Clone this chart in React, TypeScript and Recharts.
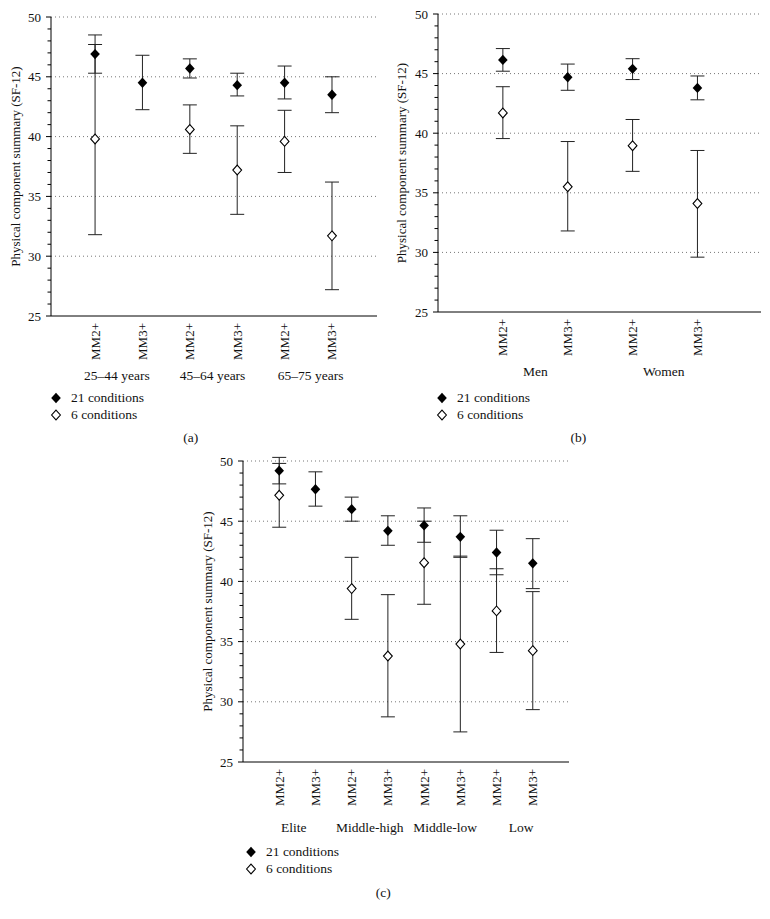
import React from "react";
import { ErrorBar, ReferenceLine, Scatter, ScatterChart, XAxis, YAxis } from "recharts";

const SERIF = "'Liberation Serif', 'Times New Roman', 'DejaVu Serif', serif";
const Y_LABEL = "Physical component summary (SF-12)";

// (a) age groups
const ageTicks = ["MM2+", "MM3+", "MM2+", "MM3+", "MM2+", "MM3+"];
const ageGroups = ["25–44 years", "45–64 years", "65–75 years"];
const ageGroupPos = [1.46, 3.48, 5.55];
const age21Mean = [46.9, 44.5, 45.7, 44.3, 44.5, 43.5];
const age21Low = [45.3, 42.25, 44.9, 43.4, 43.15, 42.0];
const age21High = [48.5, 46.8, 46.5, 45.3, 45.9, 45.0];
const age6Mean = [39.8, null, 40.6, 37.2, 39.6, 31.7];
const age6Low = [31.8, null, 38.6, 33.5, 37.0, 27.2];
const age6High = [47.7, null, 42.65, 40.9, 42.2, 36.2];

// (b) sex
const sexTicks = ["MM2+", "MM3+", "MM2+", "MM3+"];
const sexGroups = ["Men", "Women"];
const sexGroupPos = [1.5, 3.48];
const sex21Mean = [46.15, 44.7, 45.4, 43.8];
const sex21Low = [45.2, 43.6, 44.5, 42.8];
const sex21High = [47.1, 45.8, 46.25, 44.8];
const sex6Mean = [41.7, 35.5, 38.95, 34.1];
const sex6Low = [39.55, 31.8, 36.8, 29.6];
const sex6High = [43.9, 39.3, 41.15, 38.55];

// (c) social class
const classTicks = ["MM2+", "MM3+", "MM2+", "MM3+", "MM2+", "MM3+", "MM2+", "MM3+"];
const classGroups = ["Elite", "Middle-high", "Middle-low", "Low"];
const classGroupPos = [1.4, 3.5, 5.58, 7.68];
const class21Mean = [49.2, 47.65, 46.0, 44.2, 44.65, 43.7, 42.4, 41.5];
const class21Low = [48.1, 46.25, 45.0, 43.0, 43.25, 42.0, 40.55, 39.4];
const class21High = [50.3, 49.1, 47.0, 45.45, 46.1, 45.45, 44.25, 43.55];
const class6Mean = [47.15, null, 39.4, 33.8, 41.55, 34.8, 37.55, 34.25];
const class6Low = [44.5, null, 36.85, 28.75, 38.1, 27.5, 34.1, 29.35];
const class6High = [49.8, null, 42.0, 38.9, 45.0, 42.1, 41.05, 39.15];

const yTicks = Array.from({ length: 26 }, (_, i) => 25 + i);
const gridLines = [30, 35, 40, 45, 50];

type Pt = { x: number; y: number; err: [number, number] };

function buildPoints(mean: (number | null)[], low: (number | null)[], high: (number | null)[]): Pt[] {
  const out: Pt[] = [];
  mean.forEach((m, i) => {
    const lo = low[i];
    const hi = high[i];
    if (m == null || lo == null || hi == null) return;
    out.push({ x: i + 1, y: m, err: [m - lo, hi - m] });
  });
  return out;
}

function diamondPath(cx: number, cy: number, w: number, h: number) {
  return `M${cx},${cy - h}L${cx + w},${cy}L${cx},${cy + h}L${cx - w},${cy}Z`;
}

function FilledDiamond(props: any) {
  if (props.cx == null || props.cy == null) return null;
  return <path d={diamondPath(props.cx, props.cy, 4.8, 5.2)} fill="#000" />;
}

function OpenDiamond(props: any) {
  if (props.cx == null || props.cy == null) return null;
  return <path d={diamondPath(props.cx, props.cy, 4.4, 4.9)} fill="#fff" stroke="#000" strokeWidth={1.1} />;
}

function NoShape() {
  return <g />;
}

function YTick({ x, y, payload }: any) {
  const major = payload.value % 5 === 0;
  return (
    <g>
      <line x1={x - (major ? 5 : 3.5)} x2={x} y1={y} y2={y} stroke="#000" />
      {major ? (
        <text
          x={x - 10}
          y={y}
          textAnchor="end"
          dominantBaseline="central"
          fontSize={13}
          style={{ fontFamily: SERIF }}
          fill="#111"
        >
          {payload.value}
        </text>
      ) : null}
    </g>
  );
}

type PanelProps = {
  left: number;
  top: number;
  width: number;
  height: number;
  marginTop: number;
  marginRight: number;
  yAxisWidth: number;
  xDomain: [number, number];
  tickLabels: string[];
  groupLabels: string[];
  groupPos: number[];
  full: Pt[];
  open: Pt[];
  groupHeight: number;
  groupDy: number;
  labelOffset: number;
};

function Panel(p: PanelProps) {
  const xTicks = p.tickLabels.map((_, i) => i + 1);
  // invisible anchors so the group axis has data of its own
  const groupAnchors = p.groupPos.map((x) => ({ x, y: 25 }));
  return (
    <div style={{ position: "absolute", left: p.left, top: p.top }}>
      <ScatterChart
        width={p.width}
        height={p.height}
        margin={{ top: p.marginTop, right: p.marginRight, left: 0, bottom: 0 }}
      >
        <XAxis
          xAxisId={0}
          dataKey="x"
          type="number"
          domain={p.xDomain}
          ticks={xTicks}
          interval={0}
          allowDataOverflow
          tickLine={false}
          tickSize={0}
          tickMargin={0}
          height={46}
          axisLine={{ stroke: "#000" }}
          tick={(t: any) => (
            <text
              transform={`translate(${t.x},${t.y + 7}) rotate(-90)`}
              textAnchor="end"
              dominantBaseline="central"
              fontSize={13}
              style={{ fontFamily: SERIF }}
              fill="#111"
            >
              {p.tickLabels[t.payload.value - 1]}
            </text>
          )}
        />
        <XAxis
          xAxisId="group"
          dataKey="x"
          type="number"
          domain={p.xDomain}
          ticks={p.groupPos}
          interval={0}
          allowDataOverflow
          axisLine={false}
          tickLine={false}
          tickSize={0}
          tickMargin={0}
          height={p.groupHeight}
          tick={(t: any) => (
            <text
              x={t.x}
              y={t.y + p.groupDy}
              textAnchor="middle"
              dominantBaseline="central"
              fontSize={13.5}
              style={{ fontFamily: SERIF }}
              fill="#111"
            >
              {p.groupLabels[p.groupPos.indexOf(t.payload.value)]}
            </text>
          )}
        />
        <YAxis
          dataKey="y"
          type="number"
          domain={[25, 50]}
          ticks={yTicks}
          interval={0}
          allowDataOverflow
          tickLine={false}
          tickSize={0}
          tickMargin={0}
          width={p.yAxisWidth}
          axisLine={{ stroke: "#000" }}
          tick={<YTick />}
          label={{
            value: Y_LABEL,
            angle: -90,
            position: "insideLeft",
            offset: p.labelOffset,
            style: { textAnchor: "middle", fontSize: 13, fontFamily: SERIF, fill: "#111" },
          }}
        />
        {gridLines.map((g) => (
          <ReferenceLine key={g} y={g} stroke="#777" strokeDasharray="1 3" />
        ))}
        <Scatter xAxisId="group" data={groupAnchors} isAnimationActive={false} shape={<NoShape />} />
        <Scatter data={p.open} isAnimationActive={false} shape={<OpenDiamond />}>
          <ErrorBar dataKey="err" direction="y" width={7} stroke="#222" strokeWidth={1} />
        </Scatter>
        <Scatter data={p.full} isAnimationActive={false} shape={<FilledDiamond />}>
          <ErrorBar dataKey="err" direction="y" width={7} stroke="#222" strokeWidth={1} />
        </Scatter>
      </ScatterChart>
    </div>
  );
}

function LegendBlock({ left, top }: { left: number; top: number }) {
  const row = (y: number, filled: boolean, text: string) => (
    <div style={{ position: "absolute", left: 0, top: y, height: 18, display: "flex", alignItems: "center" }}>
      <svg width={14} height={14} style={{ marginLeft: -7 }}>
        <path
          d={diamondPath(7, 7, filled ? 4.8 : 4.4, filled ? 5.2 : 4.9)}
          fill={filled ? "#000" : "#fff"}
          stroke={filled ? "none" : "#000"}
          strokeWidth={1.1}
        />
      </svg>
      <span style={{ marginLeft: 8, fontSize: 13.5, lineHeight: "18px", whiteSpace: "nowrap", color: "#111" }}>{text}</span>
    </div>
  );
  return (
    <div style={{ position: "absolute", left, top: top - 9 }}>
      {row(0, true, "21 conditions")}
      {row(16.3, false, "6 conditions")}
    </div>
  );
}

function PanelTag({ x, y, text }: { x: number; y: number; text: string }) {
  return (
    <div
      style={{
        position: "absolute",
        left: x - 20,
        top: y - 9,
        width: 40,
        height: 18,
        lineHeight: "18px",
        textAlign: "center",
        fontSize: 13.5,
        color: "#111",
      }}
    >
      {text}
    </div>
  );
}

export default function App() {
  return (
    <div
      style={{
        position: "absolute",
        left: 0,
        top: 0,
        width: 770,
        height: 919,
        background: "#fff",
        fontFamily: SERIF,
        overflow: "hidden",
      }}
    >
      <Panel
        left={0}
        top={0}
        width={390}
        height={384}
        marginTop={17}
        marginRight={13}
        yAxisWidth={51}
        xDomain={[0.07, 6.95]}
        tickLabels={ageTicks}
        groupLabels={ageGroups}
        groupPos={ageGroupPos}
        full={buildPoints(age21Mean, age21Low, age21High)}
        open={buildPoints(age6Mean, age6Low, age6High)}
        groupHeight={22}
        groupDy={13}
        labelOffset={15}
      />
      <Panel
        left={390}
        top={0}
        width={380}
        height={380}
        marginTop={14}
        marginRight={9}
        yAxisWidth={48}
        xDomain={[0, 4.98]}
        tickLabels={sexTicks}
        groupLabels={sexGroups}
        groupPos={sexGroupPos}
        full={buildPoints(sex21Mean, sex21Low, sex21High)}
        open={buildPoints(sex6Mean, sex6Low, sex6High)}
        groupHeight={22}
        groupDy={13}
        labelOffset={11}
      />
      <Panel
        left={170}
        top={440}
        width={420}
        height={398}
        marginTop={21}
        marginRight={21}
        yAxisWidth={73}
        xDomain={[0, 9]}
        tickLabels={classTicks}
        groupLabels={classGroups}
        groupPos={classGroupPos}
        full={buildPoints(class21Mean, class21Low, class21High)}
        open={buildPoints(class6Mean, class6Low, class6High)}
        groupHeight={30}
        groupDy={19}
        labelOffset={37}
      />
      <LegendBlock left={56} top={398.3} />
      <LegendBlock left={442} top={398.3} />
      <LegendBlock left={251} top={852.3} />
      <PanelTag x={190.7} y={438.3} text="(a)" />
      <PanelTag x={578.3} y={438.3} text="(b)" />
      <PanelTag x={383.3} y={893.3} text="(c)" />
    </div>
  );
}
